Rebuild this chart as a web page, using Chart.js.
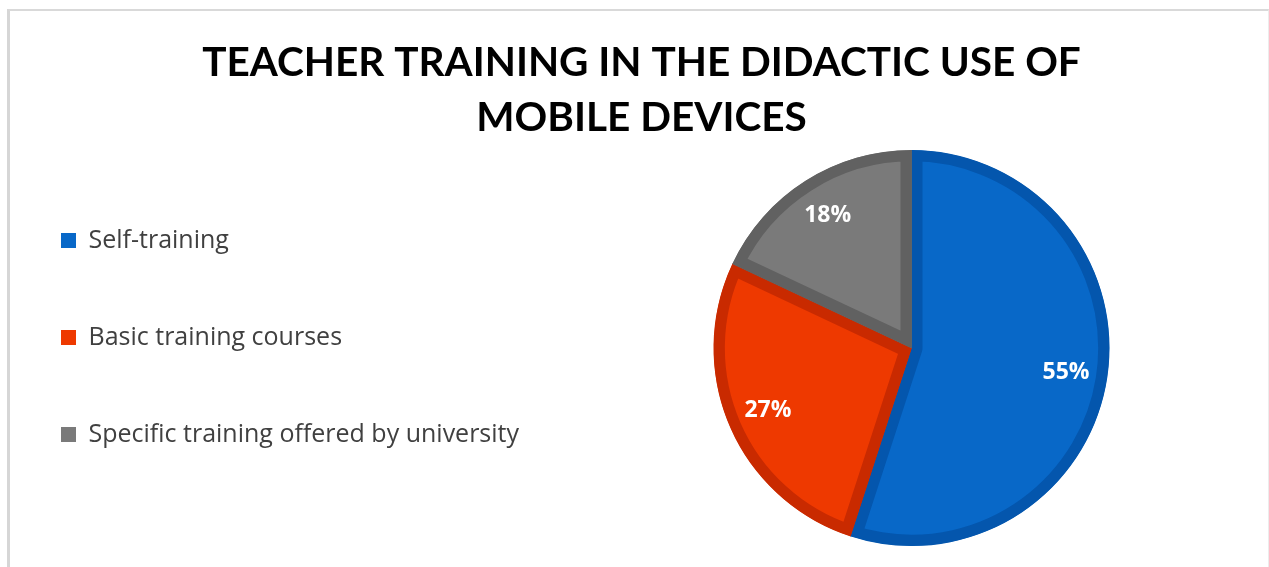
<!DOCTYPE html>
<html>
<head>
<meta charset="utf-8">
<script src="https://cdn.jsdelivr.net/npm/chart.js@4"></script>
<style>
  body { margin: 0; background: #fff; }
  #wrap { position: relative; width: 1269px; height: 567px; overflow: hidden; }
  #frame { position: absolute; left: 7px; top: 9px; width: 1258px; height: 620px;
           border-top: 2px solid #d9d9d9; border-left: 3px solid #d6d6d6; border-right: 1px solid #ececec; }
  canvas { position: absolute; left: 0; top: 0; }
</style>
</head>
<body>
<div id="wrap">
  <div id="frame"></div>
  <canvas id="trainingPie" width="1294" height="567"></canvas>
</div>
<script>
const categories = ["Self-training", "Basic training courses", "Specific training offered by university"];
const shares = [55, 27, 18];
const fillColors = ["#0868c8", "#ee3900", "#7a7a7a"];
const edgeColors = ["#0456ad", "#c92a00", "#616161"];
const titleLines = ["TEACHER TRAINING IN THE DIDACTIC USE OF", "MOBILE DEVICES"];

// percentage labels inside the slices
const pctLabels = {
  id: "pctLabels",
  afterDatasetsDraw(chart) {
    const ctx = chart.ctx;
    const meta = chart.getDatasetMeta(0);
    ctx.save();
    ctx.font = "bold 23px 'Open Sans'";
    ctx.fillStyle = "#ffffff";
    ctx.textAlign = "center";
    ctx.textBaseline = "middle";
    meta.data.forEach((arc, i) => {
      const p = arc.getProps(["x", "y", "startAngle", "endAngle", "outerRadius"]);
      const mid = (p.startAngle + p.endAngle) / 2;
      const r = p.outerRadius * 0.79;
      ctx.fillText(shares[i] + "%", p.x + Math.cos(mid) * r, p.y + Math.sin(mid) * r);
    });
    ctx.restore();
  }
};

new Chart(document.getElementById("trainingPie"), {
  type: "pie",
  data: {
    labels: categories,
    datasets: [
      {
        data: shares,
        backgroundColor: fillColors,
        borderColor: edgeColors,
        borderWidth: 11,
        borderAlign: "inner",
        radius: 198,
        hoverOffset: 0,
      },
    ],
  },
  options: {
    responsive: false,
    animation: false,
    layout: { padding: { left: -11, right: 0, top: 0, bottom: 21 } },
    plugins: {
      title: {
        display: true,
        text: titleLines,
        color: "#000000",
        font: { family: "Lato", size: 40.5, weight: "bold", lineHeight: 1.358 },
        padding: { top: 35, bottom: 5 },
      },
      legend: {
        position: "left",
        align: "start",
        fullSize: false,
        title: { display: true, text: "", padding: 0, font: { size: 5, lineHeight: 1.2 } },
        labels: {
          boxWidth: 15,
          boxHeight: 15,
          padding: 72,
          color: "#404040",
          font: { family: "Open Sans", size: 25 },
          generateLabels(chart) {
            const items = Chart.overrides.pie.plugins.legend.labels.generateLabels(chart);
            items.forEach((it) => { it.lineWidth = 0; });
            return items;
          },
        },
      },
      tooltip: { enabled: false },
    },
  },
  plugins: [pctLabels],
});
</script>
</body>
</html>
